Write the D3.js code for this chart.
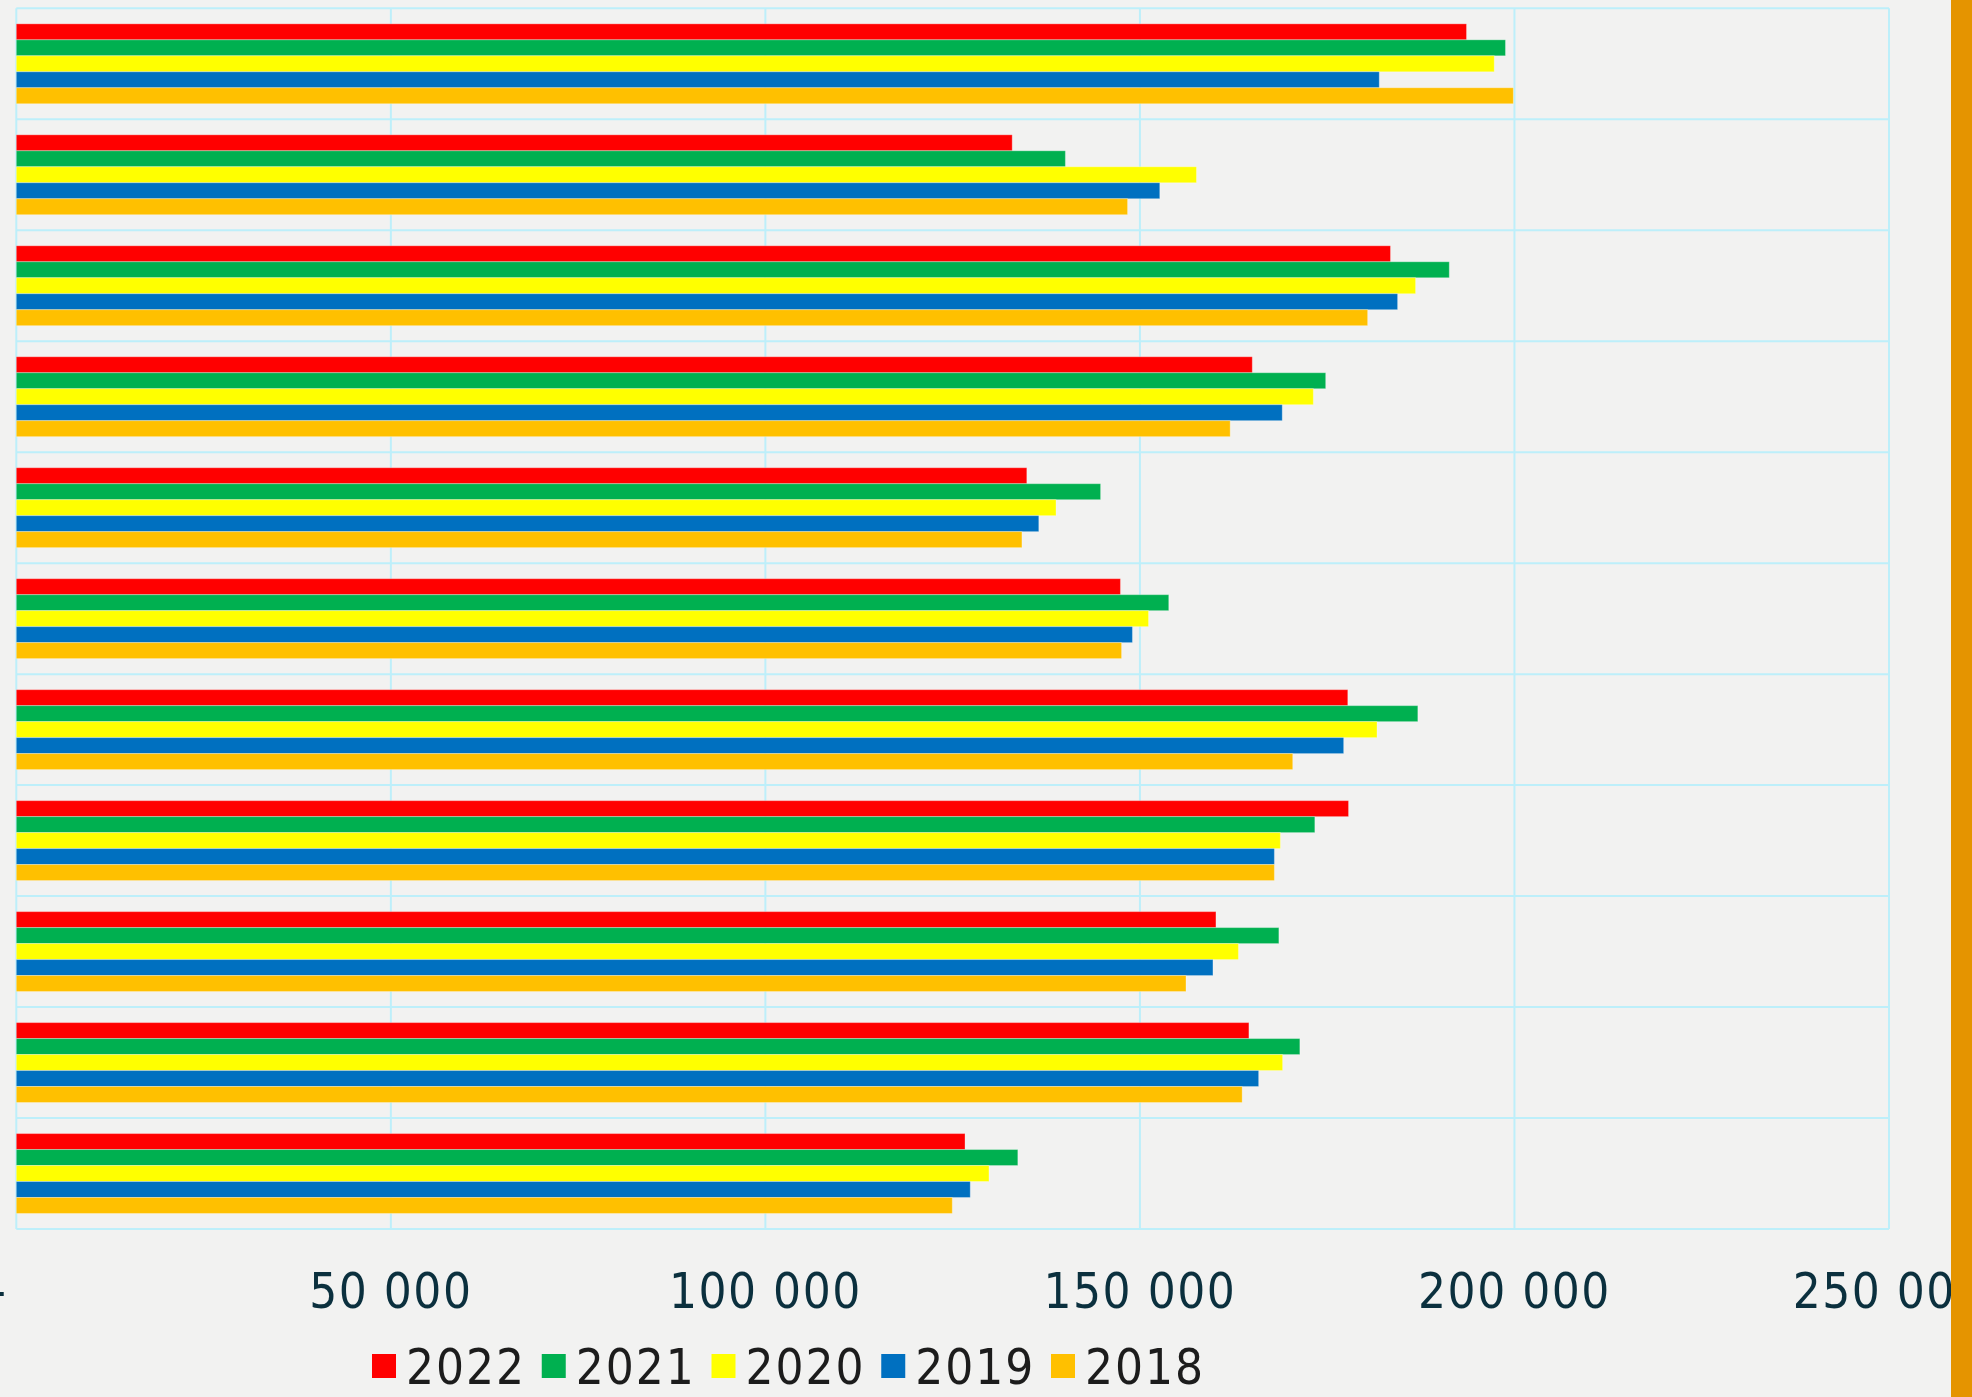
<!DOCTYPE html>
<html>
<head>
<meta charset="utf-8">
<script src="https://cdn.jsdelivr.net/npm/d3@7"></script>
<style>
  html, body { margin: 0; padding: 0; background: #f2f2f1; }
  svg { display: block; }
  text { font-family: "DejaVu Sans Condensed", "Liberation Sans Narrow", "Roboto", sans-serif; }
</style>
</head>
<body>
<svg></svg>
<script>
var vWidth = 1972;
var vHeight = 1397;

// data, top group first
var categories = ['1', '2', '3', '4', '5', '6', '7', '8', '9', '10', '11'];
var years = ['2022', '2021', '2020', '2019', '2018'];
var v2022 = [193600, 132950, 183450, 165000, 134900, 147400, 177750, 177850, 160150, 164550, 126650];
var v2021 = [198800, 140050, 191300, 174800, 144750, 153850, 187100, 173350, 168550, 171350, 133700];
var v2020 = [197300, 157550, 186800, 173150, 138800, 151150, 181650, 168750, 163150, 169050, 129850];
var v2019 = [181950, 152650, 184400, 169000, 136500, 149000, 177200, 167950, 159750, 165850, 127350];
var v2018 = [199850, 148350, 180400, 162050, 134250, 147550, 170400, 167950, 156150, 163650, 124950];
var xTicks = [0, 50000, 100000, 150000, 200000, 250000];
var colors = ['#ff0000', '#00b050', '#ffff00', '#0070c0', '#ffc000'];

var series = [v2022, v2021, v2020, v2019, v2018];

var rows = categories.map(function (c, i) {
  return { cat: c, vals: years.map(function (y, j) { return { year: y, value: series[j][i] }; }) };
});

var svg = d3.select('svg')
    .attr('width', vWidth)
    .attr('height', vHeight);

var plot = { left: 16.3, right: 1889, top: 8.3, bottom: 1229 };

var x = d3.scaleLinear()
    .domain([0, 250000])
    .range([plot.left, plot.right]);

var y = d3.scaleBand()
    .domain(categories)
    .range([plot.top, plot.bottom])
    .paddingInner(0.28)
    .paddingOuter(0.14);

var ySub = d3.scaleBand()
    .domain(years)
    .range([0, y.bandwidth()]);

var vColor = d3.scaleOrdinal()
    .domain(years)
    .range(colors);

var gridColor = '#bdeffa';

// horizontal grid: the group boundaries
var bounds = categories.map(function (c) { return y(c) - y.step() * y.paddingInner() / 2; });
bounds.push(plot.bottom);

svg.append('g')
  .selectAll('line')
  .data(bounds)
  .enter()
  .append('line')
    .attr('x1', plot.left)
    .attr('x2', plot.right)
    .attr('y1', function (d) { return d; })
    .attr('y2', function (d) { return d; })
    .style('stroke', gridColor)
    .style('stroke-width', 2);

// vertical grid
svg.append('g')
  .selectAll('line')
  .data(xTicks)
  .enter()
  .append('line')
    .attr('x1', function (d) { return x(d); })
    .attr('x2', function (d) { return x(d); })
    .attr('y1', plot.top)
    .attr('y2', plot.bottom)
    .style('stroke', gridColor)
    .style('stroke-width', 2);

// bars
var groups = svg.append('g')
  .selectAll('g')
  .data(rows)
  .enter()
  .append('g')
    .attr('transform', function (d) { return 'translate(0,' + y(d.cat) + ')'; });

groups.selectAll('rect')
  .data(function (d) { return d.vals; })
  .enter()
  .append('rect')
    .attr('x', x(0))
    .attr('y', function (d) { return ySub(d.year); })
    .attr('width', function (d) { return x(d.value) - x(0); })
    .attr('height', ySub.bandwidth())
    .style('fill', function (d) { return vColor(d.year); })
    .style('stroke', 'rgba(255,255,255,0.3)')
    .style('stroke-width', 1);

// x axis labels, zero shows as a dash
var fmt = function (d) { return d === 0 ? '-' : d3.format(',')(d).replace(/,/g, ' '); };

svg.append('g')
  .selectAll('text')
  .data(xTicks)
  .enter()
  .append('text')
    .attr('x', function (d) { return x(d); })
    .attr('dx', function (d) { return d === 0 ? -9 : 0; })
    .attr('y', 1308)
    .attr('text-anchor', function (d) { return d === 0 ? 'end' : 'middle'; })
    .style('font-size', '49px')
    .style('letter-spacing', '1.5px')
    .style('fill', '#0b303e')
    .text(fmt);

// legend
var lx = d3.scalePoint()
    .domain(years)
    .range([372, 1051]);

var legend = svg.append('g')
  .selectAll('g')
  .data(years)
  .enter()
  .append('g')
    .attr('transform', function (d) { return 'translate(' + lx(d) + ',1354)'; });

legend.append('rect')
    .attr('width', 24)
    .attr('height', 24)
    .style('fill', function (d) { return vColor(d); });

legend.append('text')
    .attr('x', 34)
    .attr('y', 30)
    .style('font-size', '49px')
    .style('letter-spacing', '2px')
    .style('fill', '#1c1c1c')
    .text(function (d) { return d; });

// orange strip on the right edge
svg.append('rect')
    .attr('x', 1951)
    .attr('y', 0)
    .attr('width', vWidth - 1951)
    .attr('height', vHeight)
    .style('fill', '#e59400');
</script>
</body>
</html>
